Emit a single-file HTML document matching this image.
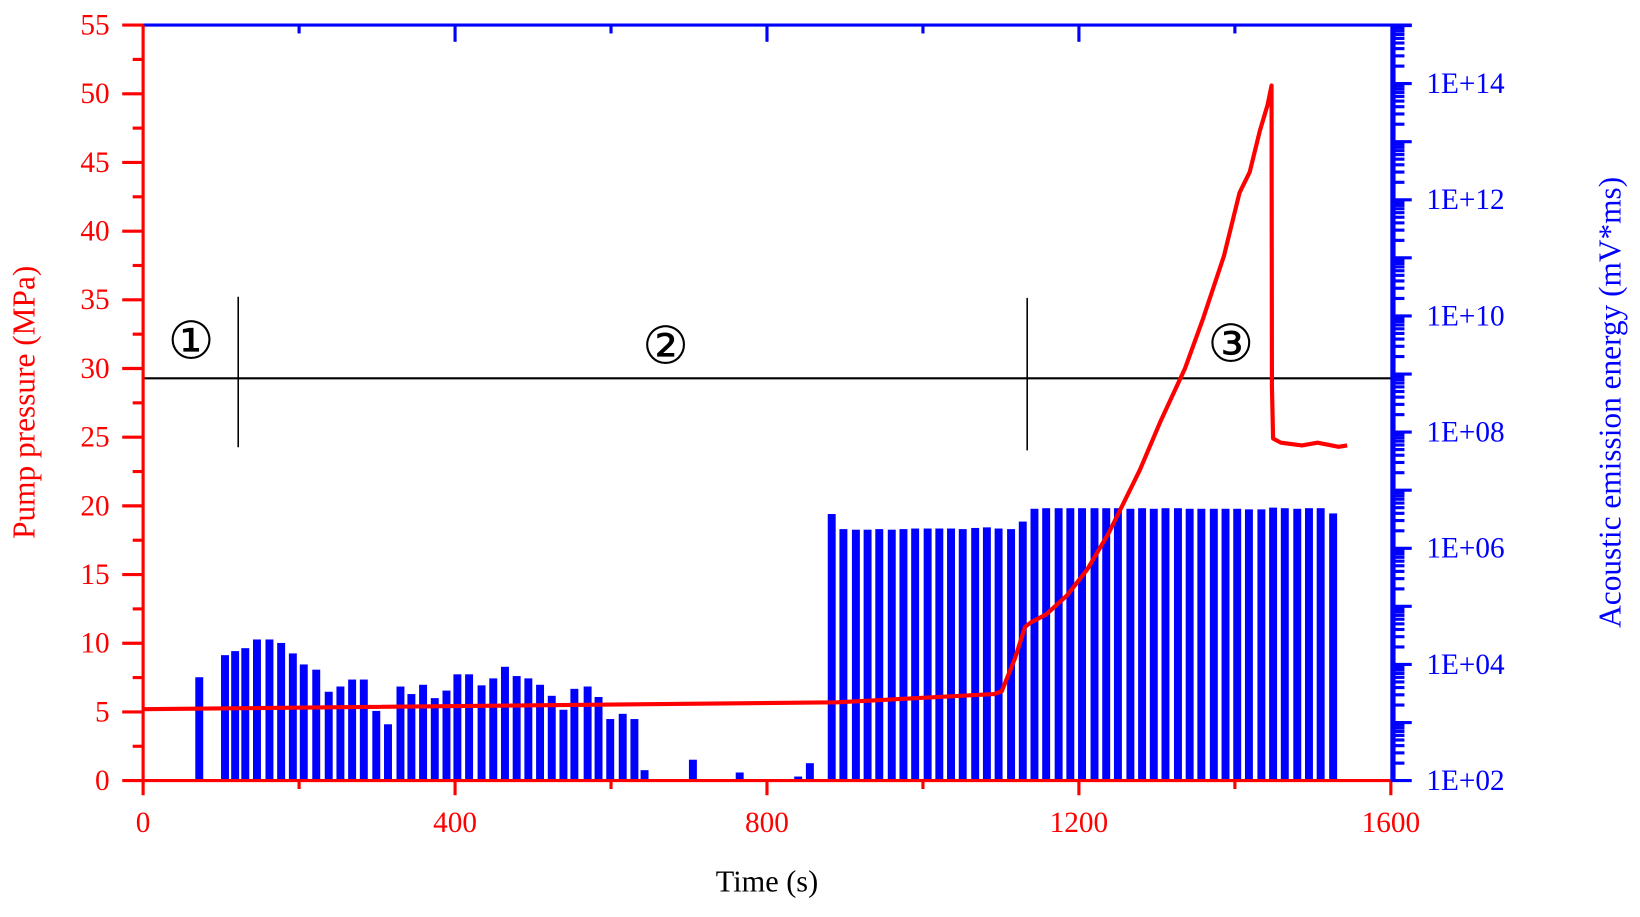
<!DOCTYPE html>
<html><head><meta charset="utf-8"><style>
html,body{margin:0;padding:0;background:#fff;}
svg{display:block;}
text{font-family:"Liberation Serif",serif;}
</style></head><body>
<svg width="1640" height="917" viewBox="0 0 1640 917" xmlns="http://www.w3.org/2000/svg"><g id="chart" transform="translate(1,0) scale(1.045)"></g></svg>
<script>
const pTimes=[0,890,1091,1101,1118,1131,1138,1158,1185,1211,1238,1252,1278,1305,1336,1359,1386,1406,1419,1432,1442,1447,1447.5,1449,1459,1486,1506,1533,1544];
const pValues=[5.2,5.7,6.3,6.5,8.9,11.2,11.5,12.1,13.5,15.4,18.0,19.6,22.6,26.2,30.0,33.6,38.2,42.8,44.3,47.3,49.2,50.6,28.7,24.9,24.6,24.4,24.6,24.3,24.4];
const barTimes=[72,105,118,131,146,162,177,192,206,222,238,253,268,283,299,314,330,344,359,374,389,403,418,434,449,464,479,494,509,524,539,553,570,584,599,615,630,643,705,765,840,855,
883,898,914,929,944,960,975,990,1006,1021,1036,1051,1067,1082,1097,1113,1128,1143,1158,1174,1189,1204,1220,1235,1250,1266,1281,1296,1311,1327,1342,1357,1373,1388,1403,1418,1434,1449,1464,1480,1495,1510,1526];
const barExps=[3.78,4.16,4.23,4.28,4.43,4.43,4.37,4.19,4.0,3.91,3.53,3.62,3.74,3.74,3.2,2.97,3.62,3.49,3.65,3.42,3.55,3.83,3.83,3.64,3.76,3.96,3.8,3.76,3.65,3.46,3.22,3.58,3.62,3.44,3.06,3.15,3.06,2.18,2.36,2.14,2.07,2.3,
6.59,6.33,6.32,6.32,6.33,6.32,6.33,6.34,6.34,6.34,6.34,6.33,6.35,6.36,6.34,6.33,6.46,6.68,6.69,6.69,6.69,6.69,6.69,6.69,6.69,6.68,6.69,6.68,6.69,6.69,6.68,6.68,6.68,6.68,6.68,6.67,6.67,6.70,6.69,6.68,6.69,6.69,6.6,4.41];
const xTicks=[0,400,800,1200,1600];
const yTicks=[0,5,10,15,20,25,30,35,40,45,50,55];
const logTicks=[2,4,6,8,10,12,14];

const X0=136,X1=1330,Y0=747,Y1=24;
const xs=t=>X0+t*(X1-X0)/1600;
const yp=p=>Y0-p*(Y0-Y1)/55;
const yl=e=>747-(e-2)*(747-80)/12;
const svg=document.getElementById('chart');
const NS='http://www.w3.org/2000/svg';
function mk(tag,attrs,parent){const e=document.createElementNS(NS,tag);for(const k in attrs)e.setAttribute(k,attrs[k]);(parent||svg).appendChild(e);return e;}

const bars=mk('g',{});


barTimes.forEach((t,i)=>{
  const top=yl(barExps[i]);
  const r=mk('rect',{x:xs(t)-3.8,y:top,width:7.6,height:Y0-top,fill:'#0000ff'},bars);
  
  
});

const st=mk('g',{stroke:'#000','stroke-width':2});


mk('line',{x1:X0,y1:362,x2:X1,y2:362},st);
mk('line',{x1:227,y1:284,x2:227,y2:428,'stroke-width':1.5},st);
mk('line',{x1:982,y1:285,x2:982,y2:431,'stroke-width':1.5},st);
[['①',182,328],['②',636,333],['③',1177,331]].forEach(([s,x,y],i)=>{
  const t=mk('text',{x:x,y:y+15,'font-size':50,'text-anchor':'middle',fill:'#000'});
  t.textContent=s;
  
  
});

const pl=mk('polyline',{points:pTimes.map((t,i)=>xs(t)+','+yp(pValues[i])).join(' '),fill:'none',stroke:'#ff0000','stroke-width':4,'stroke-linejoin':'round'});



const ax=mk('g',{});


mk('line',{x1:X0,y1:Y1,x2:X1+20,y2:Y1,stroke:'#0000ff','stroke-width':3},ax);
for(let t=200;t<1600;t+=200){mk('line',{x1:xs(t),y1:Y1,x2:xs(t),y2:Y1+(t%400?8:16),stroke:'#0000ff','stroke-width':3},ax);}
mk('line',{x1:X0,y1:Y0,x2:X1,y2:Y0,stroke:'#ff0000','stroke-width':3},ax);
for(let t=0;t<=1600;t+=200){mk('line',{x1:xs(t),y1:Y0,x2:xs(t),y2:Y0+(t%400?8:14),stroke:'#ff0000','stroke-width':3},ax);}
mk('line',{x1:X0,y1:Y1,x2:X0,y2:Y0+1,stroke:'#ff0000','stroke-width':3},ax);
for(let p=0;p<=55;p+=2.5){mk('line',{x1:X0,y1:yp(p),x2:X0-(p%5?10:20),y2:yp(p),stroke:'#ff0000','stroke-width':3},ax);}
mk('line',{x1:X1+2,y1:Y1,x2:X1+2,y2:Y0,stroke:'#0000ff','stroke-width':5},ax);
for(let e=2;e<15;e++){
  mk('line',{x1:X1,y1:yl(e),x2:X1+20,y2:yl(e),stroke:'#0000ff','stroke-width':3},ax);
  for(let m=2;m<=9;m++){const yy=yl(e+Math.log10(m));mk('line',{x1:X1,y1:yy,x2:X1+13,y2:yy,stroke:'#0000ff','stroke-width':3},ax);}
}
mk('line',{x1:X1,y1:yl(15),x2:X1+20,y2:yl(15),stroke:'#0000ff','stroke-width':3},ax);

xTicks.forEach(t=>{const e=mk('text',{x:xs(t),y:796,'font-size':28,'text-anchor':'middle',fill:'#ff0000'});e.textContent=t;

});
yTicks.forEach(p=>{const e=mk('text',{x:104,y:yp(p)+9,'font-size':28,'text-anchor':'end',fill:'#ff0000'});e.textContent=p;

});
logTicks.forEach(k=>{const e=mk('text',{x:1364,y:yl(k)+9,'font-size':28,fill:'#0000ff'});e.textContent='1E+'+String(k).padStart(2,'0');

});

let t=mk('text',{x:733,y:853,'font-size':29,'text-anchor':'middle',fill:'#000'});t.textContent='Time (s)';


t=mk('text',{x:0,y:0,'font-size':30,'text-anchor':'middle',fill:'#ff0000',transform:'translate(32,385) rotate(-90)'});t.textContent='Pump pressure (MPa)';


t=mk('text',{x:0,y:0,'font-size':30,'text-anchor':'middle',fill:'#0000ff',transform:'translate(1550,385) rotate(-90)'});t.textContent='Acoustic emission energy (mV*ms)';


</script>
</body></html>
